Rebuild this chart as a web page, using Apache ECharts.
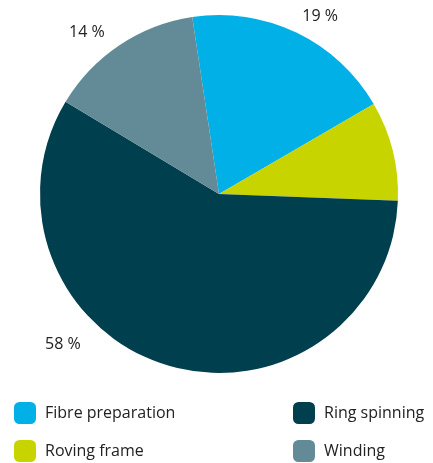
<!DOCTYPE html>
<html><head><meta charset="utf-8">
<script src="https://cdn.jsdelivr.net/npm/echarts@6/dist/echarts.min.js"></script>
<style>html,body{margin:0;padding:0;background:#fff}#c{width:433px;height:463px}</style>
</head><body><div id="c"></div>
<script>
const categories = ['Fibre preparation', 'Roving frame', 'Ring spinning', 'Winding'];
const values = [19, 9, 58, 14];
const colors = ['#00b0e6', '#c8d400', '#003f4d', '#638a97'];
// label placement (angle clockwise from top, distance from centre)
const labelAngles = [29.7, 78.8, 226, 320.8];
const labelDist = [204, 201, 217, 209];
const CX = 219, CY = 194, R = 179;
const font = '"Open Sans", sans-serif';
const chart = echarts.init(document.getElementById('c'));
const legendCommon = { orient: 'vertical', top: 402, height: 120, itemWidth: 22, itemHeight: 22, itemGap: 16, icon: 'roundRect', padding: 0,
  textStyle: { fontFamily: font, fontSize: 16, color: '#222', padding: [2, 0, 0, 4] } };
chart.setOption({
  animation: false,
  color: colors,
  legend: [
    Object.assign({}, legendCommon, { left: 14, data: [categories[0], categories[1]] }),
    Object.assign({}, legendCommon, { left: 293, data: [categories[2], categories[3]] })
  ],
  series: [{
    type: 'pie',
    center: [CX, CY],
    radius: [0, R],
    startAngle: 98.6,
    clockwise: true,
    data: categories.map((n, i) => ({ name: n, value: values[i] })),
    label: { show: true, formatter: '{c} %', fontFamily: font, fontSize: 16, color: '#222' },
    labelLine: { show: false },
    labelLayout: function (p) {
      const i = p.dataIndex;
      const a = labelAngles[i] * Math.PI / 180;
      return { x: CX + labelDist[i] * Math.sin(a), y: CY - labelDist[i] * Math.cos(a), align: 'center', verticalAlign: 'middle' };
    },
    itemStyle: { borderWidth: 0 },
    emphasis: { disabled: true }
  }]
});
</script></body></html>
